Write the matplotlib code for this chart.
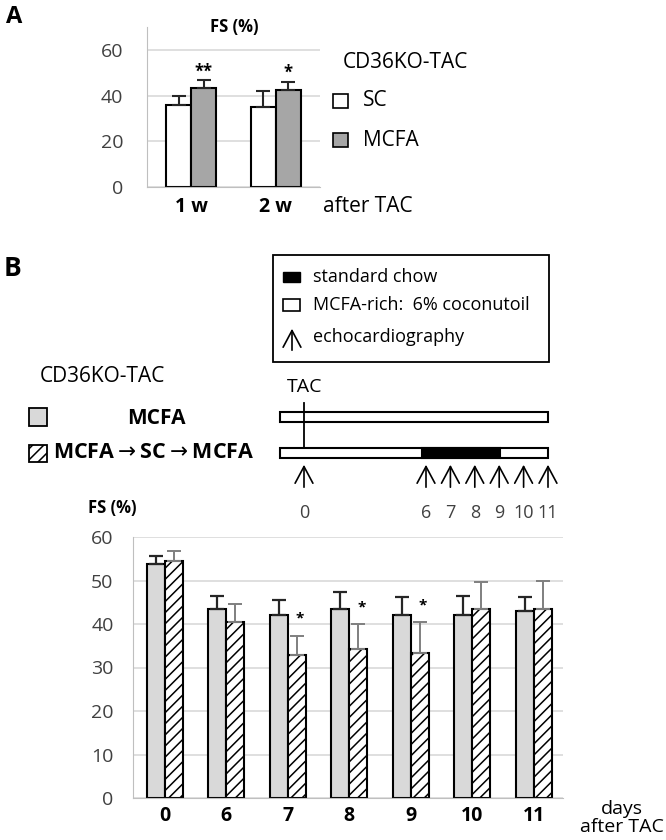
import matplotlib
matplotlib.use("Agg")
import matplotlib.pyplot as plt
from matplotlib.patches import Rectangle
import numpy as np

plt.rcParams['font.family'] = ['Open Sans', 'DejaVu Sans']
plt.rcParams['hatch.linewidth'] = 1.1

# ---- data: panel A (FS %, CD36KO-TAC) ----
a_weeks = ["1 w", "2 w"]
a_sc = [35.9, 35.0]
a_sc_err = [4.1, 6.9]
a_mcfa = [43.3, 42.6]
a_mcfa_err = [3.5, 3.4]
a_stars = ["**", "*"]

# ---- data: panel B ----
b_days = ["0", "6", "7", "8", "9", "10", "11"]
b_mcfa = [53.8, 43.4, 42.1, 43.4, 42.1, 42.1, 42.9]
b_mcfa_err = [1.9, 3.1, 3.4, 3.9, 4.0, 4.4, 3.2]
b_switch = [54.4, 40.4, 32.9, 34.3, 33.4, 43.4, 43.4]
b_switch_err = [2.3, 4.3, 4.4, 5.6, 7.0, 6.2, 6.5]
b_stars = ["", "", "*", "*", "*", "", ""]

# timeline: echo days and diet periods
echo_days = [0, 6, 7, 8, 9, 10, 11]
tl_start, tl_end = -1, 11
sc_start, sc_end = 5.85, 9.05

W, H = 666, 840
fig = plt.figure(figsize=(W / 100, H / 100), dpi=100)


def px_axes(l, t, r, b, **kw):
    return fig.add_axes([l / W, 1 - b / H, (r - l) / W, (b - t) / H], **kw)


def tl_pos(d):
    # the gap between day 0 and day 6 is drawn compressed
    return d if d <= 0 else d - 1


# overlay in pixel units for labels and legend markers
ov = px_axes(0, 0, W, H)
ov.set_xlim(0, W)
ov.set_ylim(H, 0)
ov.axis("off")
ov.set_zorder(5)

grid_c = "#d9d9d9"
tick_c = "#404040"
arrow_style = "->,head_length=0.6,head_width=0.32"


def style_axes(ax, pad_y):
    for s in ["top", "right"]:
        ax.spines[s].set_visible(False)
    ax.spines["left"].set_color("#bfbfbf")
    ax.spines["bottom"].set_color("#bfbfbf")
    ax.yaxis.grid(True, color=grid_c, lw=1.2)
    ax.set_axisbelow(True)
    ax.tick_params(axis="y", length=0, pad=pad_y, labelsize=14, labelcolor=tick_c)
    ax.tick_params(axis="x", length=0, labelsize=14)


# ---------------- panel A ----------------
axA = px_axes(147, 27, 320, 187)
xa = np.arange(len(a_weeks))
wa = 0.294
axA.bar(xa - wa / 2, a_sc, wa, color="white", edgecolor="black", lw=1.5, zorder=2)
axA.bar(xa + wa / 2, a_mcfa, wa, color="#a6a6a6", edgecolor="black", lw=1.5, zorder=2)
axA.errorbar(xa - wa / 2, a_sc, yerr=[np.zeros(2), a_sc_err], fmt="none",
             ecolor="#262626", elinewidth=1.5, capsize=5, capthick=1.5, zorder=3)
axA.errorbar(xa + wa / 2, a_mcfa, yerr=[np.zeros(2), a_mcfa_err], fmt="none",
             ecolor="#262626", elinewidth=1.5, capsize=5, capthick=1.5, zorder=3)
for i, s in enumerate(a_stars):
    axA.text(xa[i] + wa / 2, a_mcfa[i] + a_mcfa_err[i] + 3.8, s, ha="center",
             va="center", fontsize=12, fontweight="bold")
axA.set_xlim(-0.518, 1.518)
axA.set_ylim(0, 70)
axA.set_yticks([0, 20, 40, 60])
axA.set_xticks(xa)
axA.set_xticklabels(a_weeks)
style_axes(axA, 17)
axA.tick_params(axis="x", pad=7)
for lb in axA.get_xticklabels():
    lb.set_fontweight("bold")

ov.text(14, 17, "A", fontsize=17, fontweight="bold", ha="center", va="center")
ov.text(234, 27, "FS (%)", fontsize=12, fontweight="bold", ha="center", va="center")
ov.text(343, 63, "CD36KO-TAC", fontsize=15, ha="left", va="center")
ov.add_patch(Rectangle((333, 94), 15, 14, fc="white", ec="black", lw=1.2))
ov.add_patch(Rectangle((333, 133), 15, 14, fc="#a6a6a6", ec="black", lw=1.2))
ov.text(363, 101, "SC", fontsize=15, ha="left", va="center")
ov.text(363, 140, "MCFA", fontsize=15, ha="left", va="center")
ov.text(323, 207, "after TAC", fontsize=15, ha="left", va="center")

# ---------------- panel B: legend / schema ----------------
ov.text(12, 268, "B", fontsize=19, fontweight="bold", ha="center", va="center")
ov.add_patch(Rectangle((273, 255), 276, 107, fc="white", ec="black", lw=1.3))
ov.add_patch(Rectangle((283, 272), 17, 10, fc="black", ec="black", lw=1))
ov.add_patch(Rectangle((283, 299), 17, 12, fc="white", ec="black", lw=1.2))
ov.annotate("", xy=(292, 326), xytext=(292, 353),
            arrowprops=dict(arrowstyle=arrow_style, lw=1.2, color="black",
                            mutation_scale=20))
ov.text(313, 277, "standard chow", fontsize=13, ha="left", va="center")
ov.text(313, 305, "MCFA-rich:  6% coconutoil", fontsize=13, ha="left", va="center")
ov.text(313, 337, "echocardiography", fontsize=13, ha="left", va="center")

ov.text(40, 376, "CD36KO-TAC", fontsize=15, ha="left", va="center")
ov.add_patch(Rectangle((29, 408), 18, 18, fc="#d9d9d9", ec="black", lw=1.3))
ov.add_patch(Rectangle((29, 445), 18, 17, fc="white", ec="black", lw=1.3, hatch="///"))
ov.text(127, 419, "MCFA", fontsize=15, fontweight="bold", ha="left", va="center")
ov.text(53, 453, r"MCFA$\rightarrow$SC$\rightarrow$MCFA", fontsize=15.5,
        fontweight="bold", ha="left", va="center")
ov.text(112, 508, "FS (%)", fontsize=12, fontweight="bold", ha="center", va="center")

# timeline
tl = px_axes(265, 370, 575, 525)
tl.set_xlim((265 - 304) / 24.4, (575 - 304) / 24.4)
tl.set_ylim(525, 370)
tl.axis("off")
p0, p1 = tl_pos(tl_start), tl_pos(tl_end)
tl.add_patch(Rectangle((p0, 412), p1 - p0, 10, fc="white", ec="black", lw=1.5))
tl.add_patch(Rectangle((p0, 448), p1 - p0, 10, fc="white", ec="black", lw=1.5))
tl.add_patch(Rectangle((tl_pos(sc_start), 448), tl_pos(sc_end) - tl_pos(sc_start), 10,
                       fc="black", ec="black", lw=1.5))
tl.plot([tl_pos(0), tl_pos(0)], [403, 448], color="black", lw=1.3)
tl.text(tl_pos(0) - 0.7, 387, "TAC", fontsize=14, ha="left", va="center")
for d in echo_days:
    tl.annotate("", xy=(tl_pos(d), 462), xytext=(tl_pos(d), 490),
                arrowprops=dict(arrowstyle=arrow_style, lw=1.2, color="black",
                                mutation_scale=20))
    tl.text(tl_pos(d), 513, str(d), fontsize=13, ha="center", va="center", color=tick_c)

# ---------------- panel B: bar chart ----------------
axB = px_axes(133, 537, 563, 798)
xb = np.arange(len(b_days))
wb = 0.293
axB.bar(xb - wb / 2, b_mcfa, wb, color="#d9d9d9", edgecolor="black", lw=1.5, zorder=2)
axB.bar(xb + wb / 2, b_switch, wb, color="white", edgecolor="black", lw=1.5,
        hatch="///", zorder=2)
axB.errorbar(xb - wb / 2, b_mcfa, yerr=[np.zeros(7), b_mcfa_err], fmt="none",
             ecolor="#262626", elinewidth=1.6, capsize=5, capthick=1.6, zorder=3)
axB.errorbar(xb + wb / 2, b_switch, yerr=[np.zeros(7), b_switch_err], fmt="none",
             ecolor="#7f7f7f", elinewidth=1.4, capsize=5, capthick=1.4, zorder=3)
for i, s in enumerate(b_stars):
    if s:
        axB.text(xb[i] + wb / 2 + 0.05, b_switch[i] + b_switch_err[i] + 3.9, s,
                 ha="center", va="center", fontsize=11, fontweight="bold")
axB.set_xlim(-0.521, 6.48)
axB.set_ylim(0, 60)
axB.set_yticks(range(0, 61, 10))
axB.set_xticks(xb)
axB.set_xticklabels(b_days)
style_axes(axB, 14)
axB.tick_params(axis="x", pad=6)
for lb in axB.get_xticklabels():
    lb.set_fontweight("bold")
ov.text(622, 818, "days\nafter TAC", fontsize=14, ha="center", va="center",
        linespacing=0.95)

fig.savefig("out.png", dpi=100)
